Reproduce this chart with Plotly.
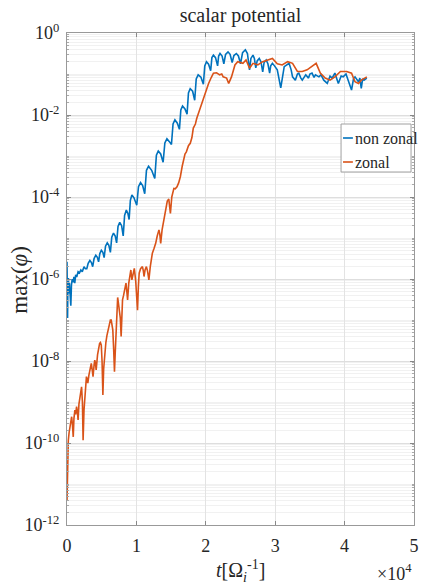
import plotly.graph_objects as go

# time in units of 1e4 / Omega_i
t_nonzonal = [
    0.000, 0.004, 0.008, 0.013, 0.020, 0.028, 0.035, 0.045, 0.055, 0.064,
    0.075, 0.088, 0.100, 0.112, 0.125, 0.140, 0.160, 0.180, 0.200, 0.220,
    0.245, 0.265, 0.285, 0.305, 0.330, 0.352, 0.370, 0.390, 0.415, 0.437,
    0.455, 0.473, 0.495, 0.517, 0.535, 0.555, 0.580, 0.603, 0.625, 0.645,
    0.670, 0.695, 0.715, 0.735, 0.760, 0.787, 0.810, 0.830, 0.855, 0.877,
    0.895, 0.913, 0.935, 0.965, 1.005, 1.030, 1.060, 1.090, 1.120, 1.145,
    1.175, 1.220, 1.265, 1.288, 1.315, 1.350, 1.385, 1.410, 1.440, 1.475,
    1.505, 1.528, 1.555, 1.590, 1.620, 1.640, 1.665, 1.700, 1.730, 1.750,
    1.775, 1.810, 1.840, 1.862, 1.890, 1.930, 1.965, 1.985, 2.010, 2.040,
    2.070, 2.088, 2.110, 2.140, 2.170, 2.185, 2.205, 2.235, 2.260, 2.285,
    2.320, 2.350, 2.380, 2.405, 2.440, 2.470, 2.500, 2.530, 2.570, 2.600,
    2.630, 2.650, 2.680, 2.700, 2.720, 2.740, 2.770, 2.795, 2.820, 2.840,
    2.870, 2.895, 2.920, 2.935, 2.960, 2.990, 3.030, 3.080, 3.110, 3.130,
    3.200, 3.230, 3.250, 3.290, 3.320, 3.340, 3.370, 3.390, 3.440, 3.480,
    3.500, 3.530, 3.560, 3.580, 3.630, 3.660, 3.700, 3.750, 3.790, 3.820,
    3.860, 3.910, 3.950, 3.980, 4.020, 4.050, 4.100, 4.130, 4.150, 4.200,
    4.220, 4.240, 4.260, 4.280, 4.320,
]
phi_nonzonal = [
    2.63e-6, 5.01e-7, 1.12e-7, 7.94e-7, 1.05e-6, 4.47e-7, 7.94e-7, 4.47e-7, 2.24e-7, 7.08e-7,
    1.00e-6, 8.32e-7, 1.12e-6, 7.94e-7, 1.26e-6, 1.12e-6, 1.51e-6, 1.41e-6, 1.66e-6, 1.51e-6,
    2.00e-6, 1.78e-6, 1.78e-6, 2.40e-6, 2.82e-6, 2.51e-6, 2.00e-6, 3.16e-6, 3.80e-6, 3.39e-6,
    2.63e-6, 4.17e-6, 5.01e-6, 4.47e-6, 3.31e-6, 6.31e-6, 7.59e-6, 6.61e-6, 4.47e-6, 1.05e-5,
    1.32e-5, 1.12e-5, 7.59e-6, 1.91e-5, 2.40e-5, 2.00e-5, 1.12e-5, 3.55e-5, 4.79e-5, 3.98e-5,
    2.82e-5, 8.32e-5, 1.12e-4, 9.55e-5, 6.31e-5, 1.78e-4, 2.24e-4, 1.91e-4, 1.20e-4, 4.47e-4,
    5.62e-4, 4.47e-4, 2.82e-4, 1.05e-3, 1.32e-3, 1.12e-3, 7.08e-4, 2.09e-3, 2.63e-3, 2.24e-3,
    1.91e-3, 6.03e-3, 7.59e-3, 6.31e-3, 4.47e-3, 1.32e-2, 1.66e-2, 1.41e-2, 1.05e-2, 3.47e-2,
    4.37e-2, 3.80e-2, 2.29e-2, 7.59e-2, 9.55e-2, 8.32e-2, 5.62e-2, 0.158, 0.200, 0.174,
    0.120, 0.251, 0.288, 0.251, 0.158, 0.275, 0.316, 0.275, 0.178, 0.302,
    0.347, 0.302, 0.191, 0.282, 0.316, 0.275, 0.178, 0.331, 0.389, 0.316,
    0.126, 0.240, 0.288, 0.240, 0.141, 0.209, 0.240, 0.200, 0.112, 0.191,
    0.219, 0.178, 0.105, 0.158, 0.182, 0.158, 0.126, 0.0457, 0.112, 0.151,
    0.182, 0.126, 0.0851, 0.0708, 0.100, 0.105, 0.0794, 0.0708, 0.0955, 0.0794,
    0.100, 0.105, 0.0832, 0.0955, 0.0851, 0.0955, 0.0708, 0.0589, 0.0891, 0.0794,
    0.105, 0.0589, 0.0891, 0.0851, 0.100, 0.0708, 0.0407, 0.0794, 0.0851, 0.0646,
    0.0794, 0.0447, 0.0759, 0.0708, 0.0794,
]

t_zonal = [
    0.000, 0.005, 0.012, 0.019, 0.030, 0.043, 0.055, 0.067, 0.078, 0.090,
    0.100, 0.114, 0.125, 0.138, 0.150, 0.160, 0.172, 0.185, 0.200, 0.210,
    0.222, 0.232, 0.245, 0.256, 0.268, 0.280, 0.290, 0.300, 0.315, 0.328,
    0.340, 0.350, 0.362, 0.375, 0.390, 0.400, 0.410, 0.420, 0.440, 0.455,
    0.470, 0.482, 0.494, 0.505, 0.517, 0.528, 0.540, 0.560, 0.575, 0.588,
    0.600, 0.610, 0.625, 0.637, 0.650, 0.660, 0.672, 0.684, 0.695, 0.708,
    0.720, 0.730, 0.742, 0.755, 0.768, 0.780, 0.790, 0.800, 0.815, 0.830,
    0.850, 0.862, 0.873, 0.890, 0.905, 0.920, 0.935, 0.950, 0.970, 0.990,
    1.005, 1.016, 1.028, 1.040, 1.060, 1.087, 1.100, 1.110, 1.125, 1.144,
    1.160, 1.180, 1.200, 1.230, 1.255, 1.278, 1.300, 1.325, 1.337, 1.350,
    1.370, 1.396, 1.420, 1.445, 1.467, 1.490, 1.510, 1.540, 1.560, 1.585,
    1.610, 1.634, 1.660, 1.680, 1.700, 1.720, 1.750, 1.776, 1.800, 1.820,
    1.850, 1.870, 1.895, 1.930, 1.970, 2.000, 2.040, 2.080, 2.110, 2.155,
    2.200, 2.230, 2.250, 2.300, 2.330, 2.370, 2.420, 2.460, 2.500, 2.535,
    2.580, 2.630, 2.680, 2.750, 2.820, 2.890, 2.960, 3.030, 3.100, 3.180,
    3.250, 3.320, 3.390, 3.460, 3.530, 3.590, 3.650, 3.720, 3.790, 3.860,
    3.940, 4.030, 4.100, 4.150, 4.200, 4.240, 4.290, 4.320,
]
phi_zonal = [
    3.98e-12, 3.16e-11, 7.94e-11, 1.17e-10, 1.78e-10, 2.51e-10, 3.16e-10, 4.37e-10, 2.82e-10, 1.41e-10,
    3.98e-10, 6.31e-10, 5.01e-10, 7.76e-10, 5.62e-10, 3.63e-10, 8.91e-10, 1.35e-9, 1.78e-9, 2.34e-9,
    1.00e-9, 1.17e-10, 6.31e-10, 1.12e-9, 2.51e-9, 4.17e-9, 3.55e-9, 2.88e-9, 4.47e-9, 5.50e-9,
    7.59e-9, 8.71e-9, 6.31e-9, 4.17e-9, 7.94e-9, 1.05e-8, 8.91e-9, 6.03e-9, 1.41e-8, 2.09e-8,
    2.69e-8, 2.82e-8, 2.45e-8, 1.00e-8, 1.48e-9, 6.31e-9, 1.26e-8, 2.82e-8, 4.17e-8, 5.13e-8,
    7.08e-8, 8.32e-8, 1.00e-7, 1.00e-7, 7.94e-8, 5.75e-8, 2.00e-8, 5.50e-9, 1.58e-8, 6.31e-8,
    1.78e-7, 3.55e-7, 2.51e-7, 1.74e-7, 1.12e-7, 3.98e-8, 1.26e-7, 3.09e-7, 3.98e-7, 5.62e-7,
    7.94e-7, 5.01e-7, 3.09e-7, 7.94e-7, 1.26e-6, 1.66e-6, 9.55e-7, 1.41e-6, 1.82e-6, 8.91e-7,
    3.98e-7, 1.74e-7, 6.31e-7, 1.38e-6, 1.78e-6, 2.00e-6, 1.58e-6, 1.15e-6, 1.66e-6, 2.00e-6,
    1.58e-6, 9.55e-7, 2.00e-6, 4.27e-6, 5.62e-6, 7.41e-6, 1.12e-5, 1.58e-5, 1.26e-5, 7.41e-6,
    1.58e-5, 2.75e-5, 5.75e-5, 7.94e-5, 8.91e-5, 3.98e-5, 1.00e-4, 1.62e-4, 1.58e-4, 1.78e-4,
    2.24e-4, 3.16e-4, 5.62e-4, 8.71e-4, 1.12e-3, 1.26e-3, 1.78e-3, 2.04e-3, 2.82e-3, 4.79e-3,
    6.03e-3, 8.32e-3, 1.10e-2, 1.78e-2, 2.82e-2, 3.98e-2, 5.89e-2, 8.32e-2, 0.105, 0.107,
    0.0955, 0.100, 0.0851, 0.0794, 0.0589, 0.0851, 0.166, 0.200, 0.191, 0.182,
    0.219, 0.138, 0.182, 0.166, 0.200, 0.219, 0.240, 0.178, 0.166, 0.200,
    0.182, 0.115, 0.115, 0.126, 0.151, 0.182, 0.105, 0.0794, 0.0708, 0.0851,
    0.115, 0.115, 0.105, 0.0646, 0.0589, 0.0708, 0.0794, 0.0851,
]

x_tick_vals = [0, 1, 2, 3, 4, 5]
x_tick_text = ["0", "1", "2", "3", "4", "5"]
y_tick_exps = [0, -2, -4, -6, -8, -10, -12]
y_tick_text = ["10<sup>%d</sup>" % e for e in y_tick_exps]
y_tick_vals = [10.0 ** e for e in y_tick_exps]
series_names = ["non zonal", "zonal"]

BLUE = "#0072BD"
ORANGE = "#D95319"
FONT = "Liberation Serif"
TXT = "#262626"

fig = go.Figure()
fig.add_trace(go.Scatter(x=t_nonzonal, y=phi_nonzonal, mode="lines", name=series_names[0],
                         line=dict(color=BLUE, width=1.6), showlegend=False))
fig.add_trace(go.Scatter(x=t_zonal, y=phi_zonal, mode="lines", name=series_names[1],
                         line=dict(color=ORANGE, width=1.6), showlegend=False))

minor_vals = [k * 10.0 ** n for n in range(-12, 0) for k in range(1, 10)
              if not (k == 1 and n % 2 == 0)]

fig.update_layout(
    width=423, height=588,
    margin=dict(l=67, r=4, t=33, b=63),
    paper_bgcolor="white", plot_bgcolor="white",
    font=dict(family=FONT, color=TXT, size=16),
    showlegend=False,
    title=dict(text="scalar potential", x=0.5, xref="paper", xanchor="center",
               y=1 - 15 / 588, yref="container", yanchor="middle",
               font=dict(family=FONT, size=20, color=TXT)),
)
fig.update_xaxes(
    range=[0, 5], tickmode="array", tickvals=x_tick_vals, ticktext=x_tick_text,
    ticks="inside", ticklen=4, tickcolor="#888888", mirror="allticks",
    showline=True, linecolor="#999999", linewidth=1,
    showgrid=True, gridcolor="#e3e3e3", gridwidth=1, zeroline=False,
    tickfont=dict(family=FONT, size=18, color=TXT), ticklabelstandoff=4,
    ticklabeloverflow="allow",
)
fig.update_yaxes(
    type="log", range=[-12, 0], tickmode="array", tickvals=y_tick_vals, ticktext=y_tick_text,
    ticks="inside", ticklen=4, tickcolor="#888888", mirror="allticks",
    showline=True, linecolor="#999999", linewidth=1,
    showgrid=True, gridcolor="#dedede", gridwidth=1, zeroline=False,
    tickfont=dict(family=FONT, size=18, color=TXT), ticklabelstandoff=3,
    ticklabeloverflow="allow",
    minor=dict(tickmode="array", tickvals=minor_vals, ticks="inside", ticklen=2,
               tickcolor="#aaaaaa", showgrid=True, gridcolor="#f1f1f1", gridwidth=1),
)

# axis labels
fig.add_annotation(text="<i>t</i>[Ω<sub><i>i</i></sub><sup>-1</sup>]", xref="paper", yref="paper",
                   x=0.5, y=(525 - 571) / 492, xanchor="center", yanchor="middle",
                   showarrow=False, font=dict(family=FONT, size=20, color=TXT))
fig.add_annotation(text="×10<sup>4</sup>", xref="paper", yref="paper",
                   x=1.0, y=(525 - 572) / 492, xanchor="right", yanchor="middle",
                   showarrow=False, font=dict(family=FONT, size=18, color=TXT))
fig.add_annotation(text="max(<i>φ</i>)", xref="paper", yref="paper", textangle=-90,
                   x=(18 - 67) / 352, y=(525 - 280) / 492, xanchor="center", yanchor="middle",
                   showarrow=False, font=dict(family=FONT, size=23, color=TXT))

# legend box (drawn manually for the short MATLAB-style samples)
def px_x(p):
    return (p - 67) / 352

def px_y(p):
    return (525 - p) / 492

fig.add_shape(type="rect", xref="paper", yref="paper",
              x0=px_x(345), x1=px_x(416), y0=px_y(172), y1=px_y(124),
              line=dict(color="#a0a0a0", width=1), fillcolor="white", layer="above")
for i, (name, col) in enumerate(zip(series_names, [BLUE, ORANGE])):
    yc = px_y(138 + 24 * i)
    fig.add_shape(type="line", xref="paper", yref="paper",
                  x0=px_x(347), x1=px_x(357), y0=yc, y1=yc,
                  line=dict(color=col, width=1.6), layer="above")
    fig.add_annotation(text=name, xref="paper", yref="paper", x=px_x(357.5), y=yc,
                       xanchor="left", yanchor="middle", showarrow=False,
                       font=dict(family=FONT, size=16, color=TXT))

fig.write_html("out.html")
